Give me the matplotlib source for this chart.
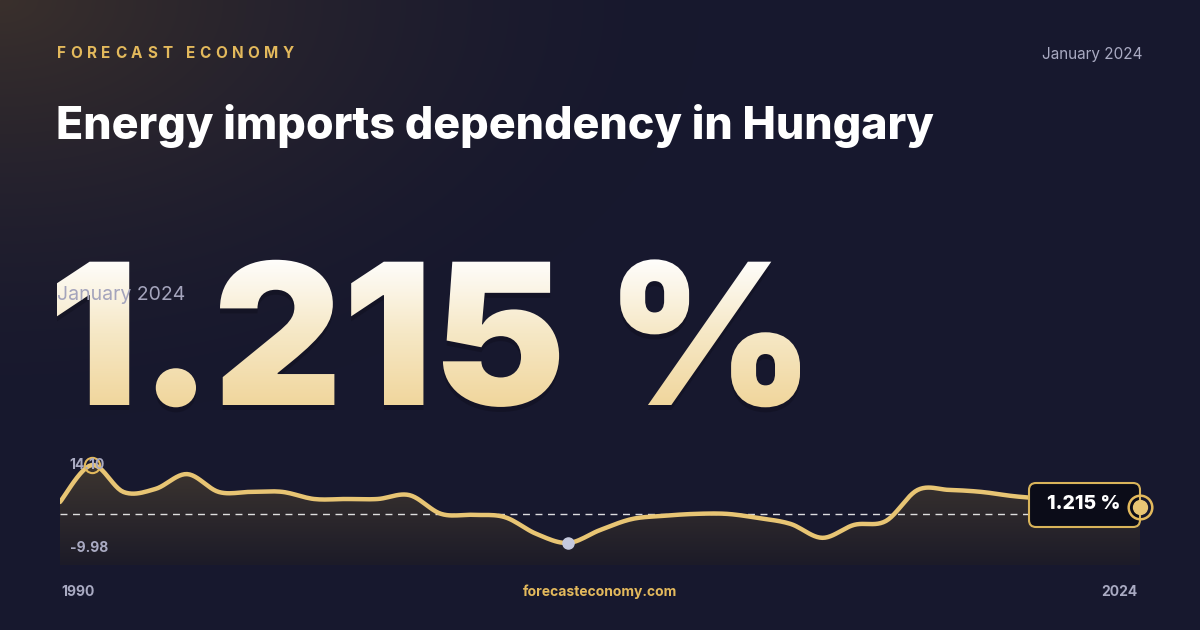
import numpy as np
import matplotlib
matplotlib.use("Agg")
import matplotlib.pyplot as plt
from matplotlib.textpath import TextPath
from matplotlib.patches import PathPatch, FancyBboxPatch
from matplotlib.font_manager import FontProperties
from matplotlib.colors import LinearSegmentedColormap
from matplotlib.path import Path

years = list(range(1990, 2025))
values = [2.68, 14.10, 5.77, 6.7, 11.3, 5.77, 5.8, 5.8, 3.6, 3.6, 3.6, 4.8, -1.0, -1.3,
          -2.0, -7.2, -9.98, -6.0, -2.6, -1.6, -1.0, -1.0, -2.3, -4.1, -8.4, -4.4, -3.2,
          6.4, 6.4, 5.8, 4.5, 3.6, 2.4, 1.5, 1.215]
title = "Energy imports dependency in Hungary"
brand = "FORECAST ECONOMY"
period = "January 2024"
headline = "1.215 %"
site = "forecasteconomy.com"
x_labels = ["1990", "2024"]

W, H = 1200, 630
fig = plt.figure(figsize=(12, 6.3), dpi=100)
sans = "Inter"

def px(y):
    return H - y

bg = fig.add_axes([0, 0, 1, 1])
bg.axis("off")
yy, xx = np.mgrid[0:H, 0:W]
base = np.array([0x17, 0x18, 0x2E]) / 255
glow = np.array([0x3A, 0x30, 0x2C]) / 255
d = np.sqrt((xx / 700.0) ** 2 + (yy / 420.0) ** 2)
t = np.clip(1 - d, 0, 1)[..., None] ** 1.6
img = base * (1 - t) + glow * t
bg.imshow(img, extent=[0, W, 0, H], origin="upper", zorder=0)

bx = 57
fpb = FontProperties(family=sans, weight="bold", size=11)
for ch in brand:
    bg.text(bx, px(53), ch, color="#E3B95C", fontproperties=fpb, va="center", ha="left")
    w = TextPath((0, 0), ch if ch != " " else "n", size=11 / 0.72, prop=fpb).get_extents().width
    bx += (w if ch != " " else 3) + 6.0
bg.text(1143, px(54), period, color="#A9AAC2", fontsize=11, family=sans, va="center", ha="right")
bg.text(56, px(126), title, color="white", fontsize=32.2, fontweight="heavy", family=sans,
        va="center", ha="left")

fp = FontProperties(family=sans, weight="black")
tp = TextPath((0, 0), headline, size=197, prop=fp)
ext = tp.get_extents()
verts = tp.vertices.copy()
verts[:, 0] = 57 + (verts[:, 0] - ext.x0) * (743.0 / ext.width)
verts[:, 1] += px(405)
path = Path(verts, tp.codes)
shadow = Path(verts + np.array([0, -5]), tp.codes)
bg.add_patch(PathPatch(shadow, fc="#0A0A14", ec="none", alpha=0.3, zorder=2))
patch = PathPatch(path, fc="none", ec="none", zorder=3)
bg.add_patch(patch)
cmap = LinearSegmentedColormap.from_list("g", ["#FFFFFF", "#F6E8C6", "#F0D59A"])
grad = np.linspace(0, 1, 256)[:, None]
im = bg.imshow(grad, cmap=cmap, extent=[40, 820, px(410), px(255)], origin="upper",
               aspect="auto", zorder=3)
im.set_clip_path(patch)
bg.text(57, px(295), period, color="#A4A4BC", fontsize=14, family=sans, va="center", ha="left", zorder=4)
bg.set_xlim(0, W); bg.set_ylim(0, H)

ax = fig.add_axes([60 / W, 1 - 565 / H, 1080 / W, 110 / H])
ax.patch.set_alpha(0)
x = np.array(years, float); y = np.array(values)
def cr(x, y, n=12):
    P = np.column_stack([x, y])
    P = np.vstack([P[0], P, P[-1]])
    out = []
    for i in range(1, len(P) - 2):
        p0, p1, p2, p3 = P[i - 1], P[i], P[i + 1], P[i + 2]
        for s in np.linspace(0, 1, n, endpoint=False):
            out.append(0.5 * ((2 * p1) + (-p0 + p2) * s + (2 * p0 - 5 * p1 + 4 * p2 - p3) * s ** 2
                              + (-p0 + 3 * p1 - 3 * p2 + p3) * s ** 3))
    out.append(P[-2])
    return np.array(out)
S = cr(x, y)
ymin_lim = -16.8
ax.set_xlim(1990, 2024); ax.set_ylim(ymin_lim, 17.2)
fill = ax.fill_between(S[:, 0], S[:, 1], ymin_lim, color="none", lw=0)
fcm = LinearSegmentedColormap.from_list("f", ["#3E3630", "#1C1B28"])
gim = ax.imshow(np.linspace(0, 1, 256)[:, None], cmap=fcm, extent=[1990, 2024, ymin_lim, 15],
                origin="upper", aspect="auto", zorder=1)
gim.set_clip_path(fill.get_paths()[0], transform=ax.transData)
ax.plot(S[:, 0], S[:, 1], color="#E8C574", lw=3.2, solid_capstyle="round", zorder=3)
ax.axhline(-0.9, color="white", lw=1, ls=(0, (5, 4)), alpha=0.85, zorder=2)
imax = int(np.argmax(y)); imin = int(np.argmin(y))
ax.plot(x[imax], y[imax], "o", ms=11, mfc="none", mec="#E3B95C", mew=1.5, zorder=4, clip_on=False)
ax.plot(x[imin], y[imin], "o", ms=8, color="#C5C9DE", zorder=4, clip_on=False)
ax.text(1990.3, y[imax], f"{y[imax]:.2f}", color="#A9AAC2", fontsize=10, fontweight="bold",
        family=sans, va="center", ha="left", zorder=6)
ax.text(1990.3, y[imin] - 1.5, f"{y[imin]:.2f}", color="#A9AAC2", fontsize=10, fontweight="bold",
        family=sans, va="center", ha="left", zorder=6)
ax.set_xlim(1990, 2024); ax.set_ylim(ymin_lim, 17.2)
ax.axis("off")

ov = fig.add_axes([0, 0, 1, 1]); ov.set_xlim(0, W); ov.set_ylim(0, H); ov.axis("off")
ov.patch.set_alpha(0)
box = FancyBboxPatch((1029, px(527)), 111, 44, boxstyle="round,pad=0,rounding_size=7",
                     fc="#0B0C18", ec="#D9B45A", lw=1.5, zorder=6)
ov.add_patch(box)
ov.text(1084, px(504), headline, color="white", fontsize=14, fontweight="heavy", family=sans,
        va="center", ha="center", zorder=8)
ex, ey = ov.transData.inverted().transform(ax.transData.transform((x[-1], y[-1])))
ov.plot(ex, ey, "o", ms=17, mfc="none", mec="#E3B95C", mew=1.8, zorder=9)
ov.plot(ex, ey, "o", ms=10, color="#E8C574", zorder=9)
ov.set_xlim(0, W); ov.set_ylim(0, H)
ov.set_zorder(2); ax.set_zorder(1); bg.set_zorder(0)

bg.text(61, px(592), x_labels[0], color="#A9AAC2", fontsize=10, fontweight="bold", family=sans, va="center")
bg.text(1138, px(592), x_labels[1], color="#A9AAC2", fontsize=10, fontweight="bold", family=sans,
        va="center", ha="right")
bg.text(600, px(592), site, color="#E3B95C", fontsize=10, fontweight="bold", family=sans,
        va="center", ha="center")

fig.savefig("out.png", dpi=100)
